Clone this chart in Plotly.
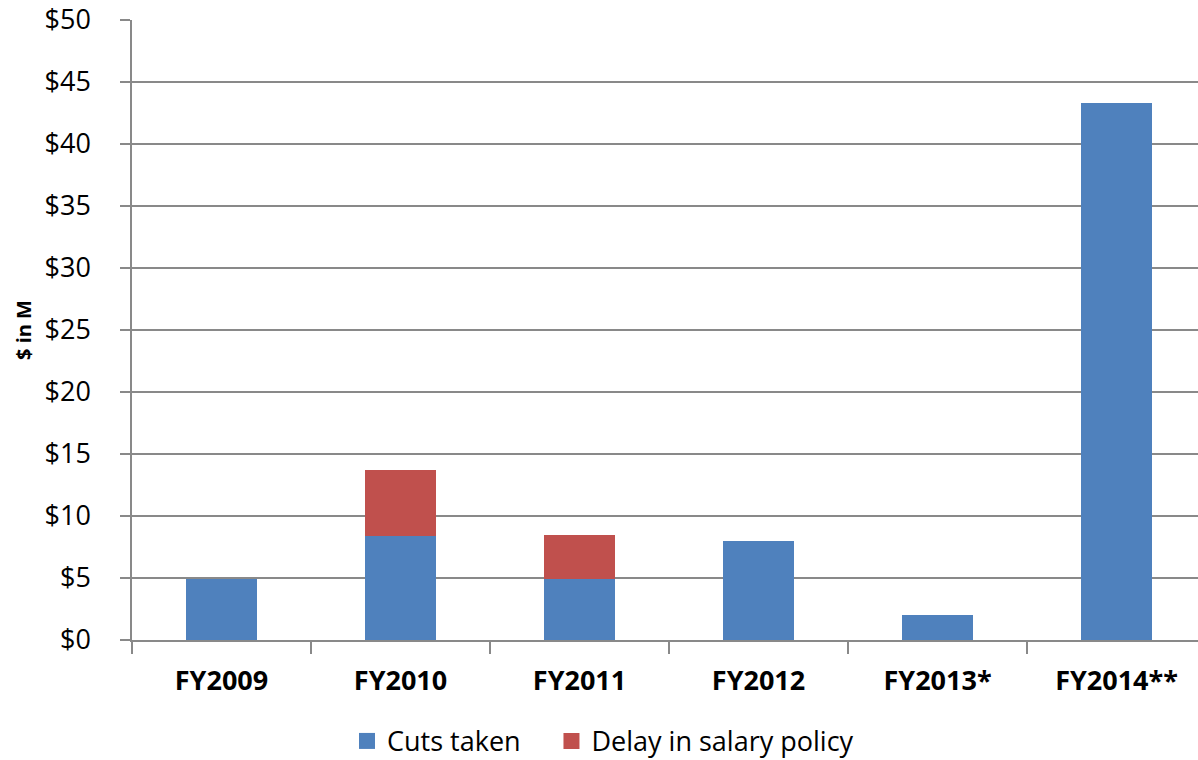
import plotly.graph_objects as go

categories = ["FY2009", "FY2010", "FY2011", "FY2012", "FY2013*", "FY2014**"]
cuts_taken = [4.9, 8.4, 4.95, 8.0, 2.0, 43.3]
delay_salary = [0, 5.3, 3.55, 0, 0, 0]
series_names = ["Cuts taken", "Delay in salary policy"]
series_colors = ["#4F81BD", "#C0504D"]
y_ticks = [0, 5, 10, 15, 20, 25, 30, 35, 40, 45, 50]
y_tick_labels = ["$" + str(v) for v in y_ticks]

FONT = "Open Sans"
GRID = "#898989"

fig = go.Figure()
for name, vals, col in zip(series_names, [cuts_taken, delay_salary], series_colors):
    fig.add_trace(go.Bar(name=name, x=categories, y=vals, showlegend=False,
                         marker=dict(color=col, line=dict(width=0)), width=0.4))
# legend entries with larger square swatches, one legend per entry for spacing
legend_ids = ["legend", "legend2"]
for name, col, lg in zip(series_names, series_colors, legend_ids):
    fig.add_trace(go.Scatter(name=name, x=[None], y=[None], mode="markers",
                             marker=dict(symbol="square", size=17, color=col),
                             showlegend=True, legend=lg))

legend_style = dict(orientation="h", xanchor="left", y=-0.124, yanchor="top",
                    font=dict(size=27, family=FONT, color="black"), itemsizing="trace",
                    itemwidth=30, bgcolor="rgba(0,0,0,0)")

fig.update_layout(
    barmode="stack",
    width=1198, height=760,
    margin=dict(l=132, r=0, t=20, b=120, autoexpand=False),
    paper_bgcolor="white", plot_bgcolor="white",
    font=dict(family=FONT, color="black"),
    showlegend=True,
    legend=dict(x=0.2017, **legend_style),
    legend2=dict(x=0.3935, **legend_style),
)
fig.update_xaxes(
    type="category",
    tickson="boundaries",
    ticks="outside", ticklen=12, tickcolor=GRID, tickwidth=1.5,
    showline=True, linecolor=GRID, linewidth=1.5,
    showgrid=False, automargin=False,
    tickfont=dict(size=27, family=FONT, color="black", weight="bold"),
    ticklabelstandoff=16,
    range=[-0.5, 5.455],
)
fig.update_yaxes(
    range=[0, 50],
    tickvals=y_ticks, ticktext=y_tick_labels,
    ticks="outside", ticklen=10, tickcolor=GRID, tickwidth=1.5,
    showline=True, linecolor=GRID, linewidth=1.5,
    showgrid=True, gridcolor=GRID, gridwidth=1.5,
    zeroline=False, automargin=False,
    tickfont=dict(size=27, family=FONT, color="black"),
    ticklabelstandoff=24,
    title=dict(text="$ in M", font=dict(size=20, family=FONT, color="black", weight="bold"), standoff=8),
)

fig.write_html("out.html")
